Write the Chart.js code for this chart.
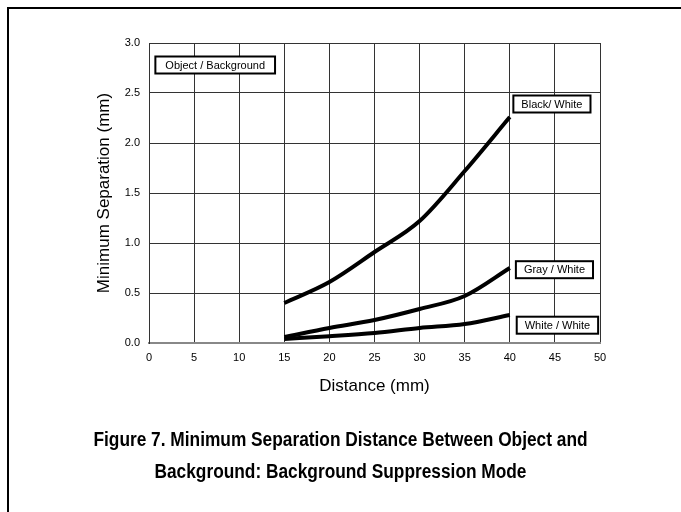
<!DOCTYPE html>
<html>
<head>
<meta charset="utf-8">
<script src="https://cdn.jsdelivr.net/npm/chart.js@4/dist/chart.umd.min.js"></script>
<style>
  html, body { margin: 0; padding: 0; background: #fff; }
  #wrap { position: relative; width: 681px; height: 512px; overflow: hidden; }
  #frame { position: absolute; left: 7px; top: 7px; width: 700px; height: 540px;
           border-left: 2px solid #000; border-top: 2px solid #000; }
  #chart { position: absolute; left: 0; top: 0; }
</style>
</head>
<body>
<div id="wrap">
  <div id="frame"></div>
  <canvas id="chart" width="681" height="512"></canvas>
</div>
<script>
// values
const distance = [15, 20, 25, 30, 35, 40];
const blackWhite = [0.40, 0.61, 0.91, 1.22, 1.72, 2.26];
const grayWhite = [0.06, 0.15, 0.23, 0.34, 0.47, 0.75];
const whiteWhite = [0.04, 0.067, 0.10, 0.15, 0.19, 0.28];
const seriesNames = ['Black/ White', 'Gray / White', 'White / White'];
const keyLabel = 'Object / Background';
const xTicks = [0, 5, 10, 15, 20, 25, 30, 35, 40, 45, 50];
const yTicks = [0, 0.5, 1.0, 1.5, 2.0, 2.5, 3.0];
const figureTitle = ['Figure 7. Minimum Separation Distance Between Object and',
                     'Background: Background Suppression Mode'];

const FONT = "'Liberation Sans', Arial, sans-serif";

function toPoints(values) {
  return distance.map((d, i) => ({ x: d, y: values[i] }));
}

function lineSet(name, values) {
  return {
    label: name,
    data: toPoints(values),
    borderColor: '#000',
    borderWidth: 4,
    pointRadius: 0,
    fill: false,
    cubicInterpolationMode: 'monotone'
  };
}

// boxed labels drawn on top of the plot (centre given in data units)
const boxLabels = {
  id: 'boxLabels',
  afterDatasetsDraw(chart) {
    const { ctx, scales: { x, y } } = chart;
    const items = [
      { text: keyLabel, cx: 7.34, cy: 2.78 },
      { text: seriesNames[0], cx: 44.67, cy: 2.39 },
      { text: seriesNames[1], cx: 44.95, cy: 0.733 },
      { text: seriesNames[2], cx: 45.28, cy: 0.178 }
    ];
    ctx.save();
    ctx.font = '11px ' + FONT;
    ctx.textAlign = 'center';
    ctx.textBaseline = 'middle';
    items.forEach(it => {
      const px = x.getPixelForValue(it.cx);
      const py = y.getPixelForValue(it.cy);
      const w = ctx.measureText(it.text).width + (it.text === keyLabel ? 20 : 16);
      const h = 17;
      ctx.fillStyle = '#fff';
      ctx.fillRect(px - w / 2, py - h / 2, w, h);
      ctx.lineWidth = 2;
      ctx.strokeStyle = '#000';
      ctx.strokeRect(px - w / 2, py - h / 2, w, h);
      ctx.fillStyle = '#000';
      ctx.fillText(it.text, px, py + 0.5);
    });
    ctx.restore();
  }
};

// figure caption under the chart, slightly condensed like the original
const caption = {
  id: 'caption',
  afterDraw(chart) {
    const { ctx } = chart;
    ctx.save();
    ctx.font = 'bold 20px ' + FONT;
    ctx.fillStyle = '#000';
    ctx.textAlign = 'center';
    ctx.textBaseline = 'middle';
    figureTitle.forEach((line, i) => {
      ctx.save();
      ctx.translate(340.5, 440 + i * 32);
      ctx.scale(0.865, 1);
      ctx.fillText(line, 0, 0);
      ctx.restore();
    });
    ctx.restore();
  }
};

new Chart(document.getElementById('chart'), {
  type: 'line',
  data: {
    datasets: [
      lineSet(seriesNames[0], blackWhite),
      lineSet(seriesNames[1], grayWhite),
      lineSet(seriesNames[2], whiteWhite)
    ]
  },
  options: {
    responsive: false,
    animation: false,
    layout: { padding: { left: 0, top: 43, right: 81, bottom: 98 } },
    scales: {
      x: {
        type: 'linear',
        min: xTicks[0],
        max: xTicks[xTicks.length - 1],
        afterBuildTicks: s => { s.ticks = xTicks.map(v => ({ value: v })); },
        afterFit: s => { s.height = 71; },
        grid: { color: '#333', lineWidth: 1, drawTicks: false },
        border: { color: '#888', width: 2 },
        ticks: {
          color: '#000', padding: 8, maxRotation: 0,
          font: { family: FONT, size: 11 }
        },
        title: {
          display: true, text: 'Distance (mm)', color: '#000',
          font: { family: FONT, size: 17 },
          padding: { top: 0, bottom: 17 }
        }
      },
      y: {
        type: 'linear',
        min: yTicks[0],
        max: yTicks[yTicks.length - 1],
        afterBuildTicks: s => { s.ticks = yTicks.map(v => ({ value: v })); },
        afterFit: s => { s.width = 149; },
        grid: { color: '#333', lineWidth: 1, drawTicks: false },
        border: { color: '#333', width: 1 },
        ticks: {
          color: '#000', padding: 9,
          font: { family: FONT, size: 11 },
          callback: v => v.toFixed(1)
        },
        title: {
          display: true, text: 'Minimum Separation (mm)', color: '#000',
          font: { family: FONT, size: 17 },
          padding: { top: 94, bottom: 0 }
        }
      }
    },
    plugins: {
      legend: { display: false },
      tooltip: { enabled: false },
      title: { display: false }
    }
  },
  plugins: [boxLabels, caption]
});
</script>
</body>
</html>
